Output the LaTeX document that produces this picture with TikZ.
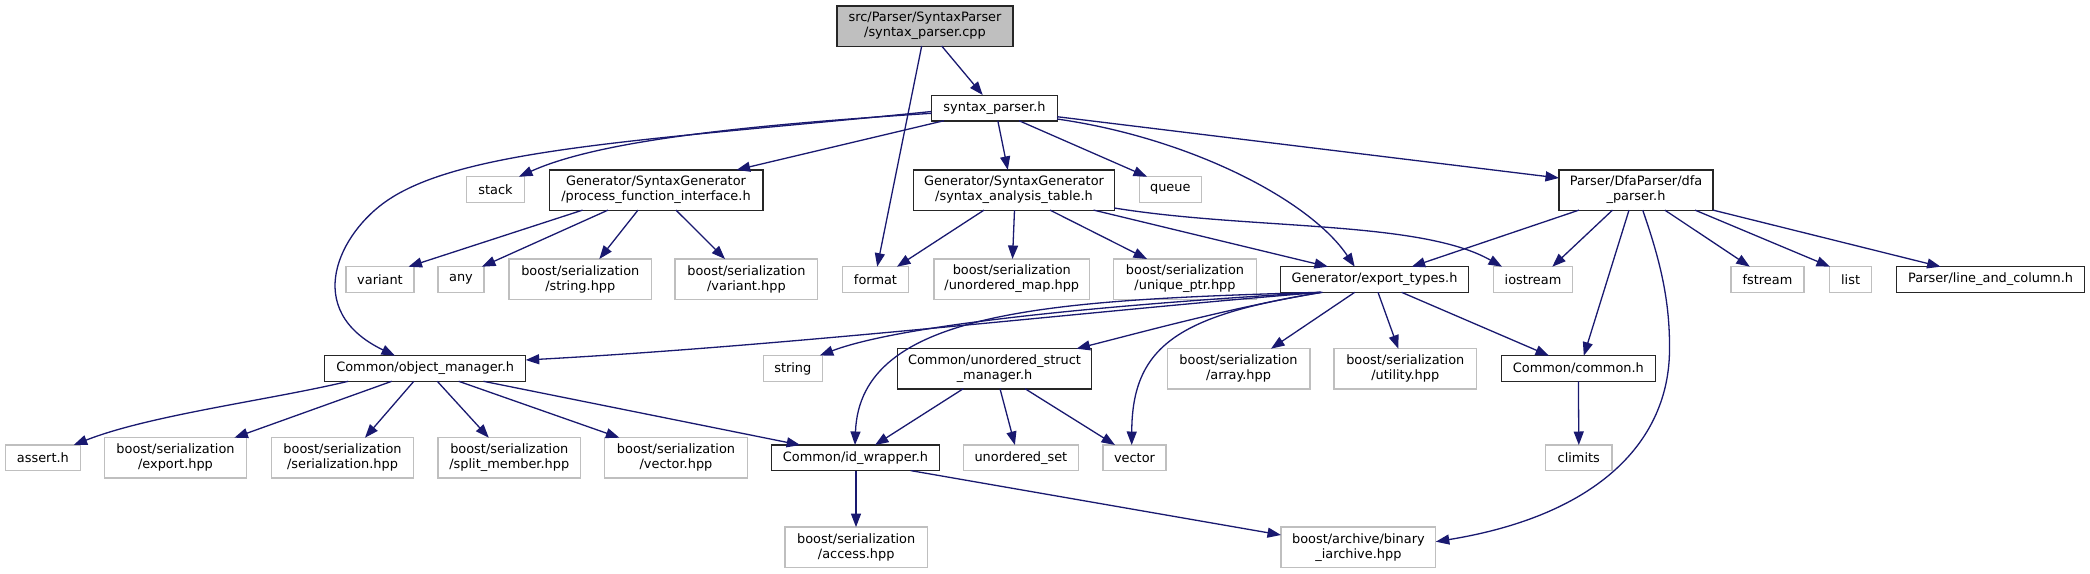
\documentclass[tikz,border=0pt]{standalone}
\usepackage{fontspec}
\setmainfont{DejaVu Sans}
\usetikzlibrary{arrows.meta,calc}
\definecolor{edgec}{HTML}{191970}
\definecolor{greyseventyfive}{HTML}{BFBFBF}
\newcommand{\nodefont}{\fontsize{12.9pt}{15pt}\selectfont}
\tikzset{
  basen/.style={rectangle, inner sep=0pt, align=center, font=\nodefont, text=black},
  intn/.style={basen, draw=black!85, line width=1.3pt, fill=white},
  extn/.style={basen, draw=greyseventyfive, line width=1.3pt, fill=white},
  rootn/.style={intn, fill=greyseventyfive},
  one/.style={minimum height=25.7pt},
  two/.style={minimum height=40.3pt},
  edg/.style={draw=edgec, line width=1.3pt, -{Triangle[length=13.5pt,width=10pt]}},
}
\begin{document}
\begin{tikzpicture}[x=1pt,y=-1pt]
\useasboundingbox[fill=white] (0,0) rectangle (2090,573);
% row 0
\node[rootn, two, minimum width=176pt] (root) at (925,26) {src/Parser/SyntaxParser\\/syntax\_parser.cpp};
% row 1
\node[intn, one, minimum width=125.5pt] (sp) at (994.5,108) {syntax\_parser.h};
% row 2
\node[extn, one, minimum width=57.6pt] (stack) at (495.5,189.5) {stack};
\node[intn, two, minimum width=213.7pt] (pfi) at (656,190) {Generator/SyntaxGenerator\\/process\_function\_interface.h};
\node[intn, two, minimum width=201pt] (sat) at (1014,190) {Generator/SyntaxGenerator\\/syntax\_analysis\_table.h};
\node[extn, one, minimum width=62.3pt] (queue) at (1170.3,189.5) {queue};
\node[intn, two, minimum width=154pt] (dfa) at (1636,190) {Parser/DfaParser/dfa\\\_parser.h};
% row 3
\node[extn, one, minimum width=68pt] (variant) at (380,279.5) {variant};
\node[extn, one, minimum width=46pt] (any) at (461,279.5) {any};
\node[extn, two, minimum width=142.6pt] (bstring) at (580.3,279) {boost/serialization\\/string.hpp};
\node[extn, two, minimum width=142.6pt] (bvariant) at (746.4,279) {boost/serialization\\/variant.hpp};
\node[extn, one, minimum width=66.3pt] (format) at (875.5,279.5) {format};
\node[extn, two, minimum width=155.6pt] (bumap) at (1011.8,279) {boost/serialization\\/unordered\_map.hpp};
\node[extn, two, minimum width=142.6pt] (buptr) at (1185,279) {boost/serialization\\/unique\_ptr.hpp};
\node[intn, one, minimum width=188.2pt] (export) at (1374.5,279.5) {Generator/export\_types.h};
\node[extn, one, minimum width=79pt] (iostream) at (1533,279.5) {iostream};
\node[extn, one, minimum width=73pt] (fstream) at (1767.5,279.5) {fstream};
\node[extn, one, minimum width=42.2pt] (list) at (1850.6,279.5) {list};
\node[intn, one, minimum width=188.2pt] (lac) at (1990.6,279.5) {Parser/line\_and\_column.h};
% row 4
\node[intn, one, minimum width=201pt] (om) at (425.2,368.5) {Common/object\_manager.h};
\node[extn, one, minimum width=59pt] (string) at (792.8,368.5) {string};
\node[intn, two, minimum width=194.3pt] (usm) at (994.5,368.7) {Common/unordered\_struct\\\_manager.h};
\node[extn, two, minimum width=142.7pt] (barray) at (1238.5,368.7) {boost/serialization\\/array.hpp};
\node[extn, two, minimum width=142.6pt] (butil) at (1405.3,368.7) {boost/serialization\\/utility.hpp};
\node[intn, one, minimum width=154pt] (common) at (1578.4,368.5) {Common/common.h};
% row 5
\node[extn, one, minimum width=75pt] (assert) at (42.9,457.8) {assert.h};
\node[extn, two, minimum width=142pt] (bexport) at (175.5,457.8) {boost/serialization\\/export.hpp};
\node[extn, two, minimum width=142.6pt] (bser) at (342.5,457.8) {boost/serialization\\/serialization.hpp};
\node[extn, two, minimum width=142.6pt] (bsplit) at (509.3,457.8) {boost/serialization\\/split\_member.hpp};
\node[extn, two, minimum width=142.6pt] (bvec) at (676,457.8) {boost/serialization\\/vector.hpp};
\node[intn, one, minimum width=168pt] (idw) at (855.5,457.8) {Common/id\_wrapper.h};
\node[extn, one, minimum width=114.6pt] (uset) at (1020.9,457.8) {unordered\_set};
\node[extn, one, minimum width=63pt] (vector) at (1134.5,457.8) {vector};
\node[extn, one, minimum width=66.3pt] (climits) at (1578.8,457.8) {climits};
% row 6
\node[extn, two, minimum width=142.7pt] (baccess) at (856.2,547.2) {boost/serialization\\/access.hpp};
\node[extn, two, minimum width=154.8pt] (bbin) at (1358.4,547.2) {boost/archive/binary\\\_iarchive.hpp};

% edges from root
\draw[edg] ($(root)+(16.7,20)$) -- ($(sp)+(-11.8,-13)$);
\draw[edg] ($(root)+(-3.3,20)$) -- ($(format)+(1.7,-12.8)$);
% edges from syntax_parser.h
\draw[edg] ($(sp)+(-63,3.5)$) .. controls (650,140) and (465,148) .. (388,200) .. controls (340,232) and (300,310) .. ($(om)+(-30.2,-12.8)$);
\draw[edg] ($(sp)+(-63,5.3)$) .. controls (750,125) and (600,140) .. ($(stack)+(23.5,-12.8)$);
\draw[edg] ($(sp)+(-50.5,12.7)$) -- ($(pfi)+(80.6,-20.1)$);
\draw[edg] ($(sp)+(3.3,12.7)$) -- ($(sat)+(-6.2,-20.1)$);
\draw[edg] ($(sp)+(24.5,12.7)$) -- ($(queue)+(-23.3,-12.8)$);
\draw[edg] ($(sp)+(62.5,11)$) .. controls (1190,138) and (1310,200) .. ($(export)+(-19.8,-12.8)$);
\draw[edg] ($(sp)+(62.5,8.7)$) -- ($(dfa)+(-77,-12)$);
% edges from process_function_interface.h
\draw[edg] ($(pfi)+(-73.4,20.1)$) -- ($(variant)+(28.5,-12.8)$);
\draw[edg] ($(pfi)+(-48,20.1)$) -- ($(any)+(21,-12.8)$);
\draw[edg] ($(pfi)+(-18,20.1)$) -- ($(bstring)+(19,-20)$);
\draw[edg] ($(pfi)+(20,20.1)$) -- ($(bvariant)+(-21.4,-20)$);
% edges from syntax_analysis_table.h
\draw[edg] ($(sat)+(-30,20.1)$) -- ($(format)+(21.5,-12.8)$);
\draw[edg] ($(sat)+(0.5,20.1)$) -- ($(bumap)+(0.7,-20)$);
\draw[edg] ($(sat)+(36,20.1)$) -- ($(buptr)+(-38,-20)$);
\draw[edg] ($(sat)+(79.6,20.1)$) -- ($(export)+(-46.5,-12.8)$);
\draw[edg] ($(sat)+(100.3,18)$) .. controls (1250,230) and (1420,220) .. ($(iostream)+(-31,-12.8)$);
% edges from dfa_parser.h
\draw[edg] ($(dfa)+(-57,20.1)$) -- ($(export)+(37.2,-12.8)$);
\draw[edg] ($(dfa)+(-23.5,20.1)$) -- ($(iostream)+(19.3,-12.8)$);
\draw[edg] ($(dfa)+(-7,20.1)$) -- ($(common)+(5.4,-12.8)$);
\draw[edg] ($(dfa)+(6.7,20.1)$) .. controls (1660,260) and (1670,300) .. (1669.5,350) .. controls (1669,440) and (1600,515) .. ($(bbin)+(77.4,-5.5)$);
\draw[edg] ($(dfa)+(28.8,20.1)$) -- ($(fstream)+(-17.7,-12.8)$);
\draw[edg] ($(dfa)+(59,20.1)$) -- ($(list)+(-20.6,-12.8)$);
\draw[edg] ($(dfa)+(77,20.1)$) -- ($(lac)+(-50,-12.8)$);
% edges from export_types.h
\draw[edg] ($(export)+(-53.5,12.8)$) .. controls (1100,310) and (800,345) .. ($(om)+(100.5,-8.5)$);
\draw[edg] ($(export)+(-54,12.8)$) .. controls (1100,305) and (900,325) .. ($(string)+(27,-13)$);
\draw[edg] ($(export)+(-54.5,12.8)$) .. controls (1050,300) and (860,310) .. ($(idw)+(-0.5,-12.8)$);
\draw[edg] ($(export)+(-53,12.8)$) .. controls (1230,308) and (1150,330) .. ($(usm)+(82,-20)$);
\draw[edg] ($(export)+(-52,12.8)$) .. controls (1180,315) and (1132,345) .. ($(vector)+(-2.8,-12.8)$);
\draw[edg] ($(export)+(-19.8,12.8)$) -- ($(barray)+(32.5,-20)$);
\draw[edg] ($(export)+(3.5,12.8)$) -- ($(butil)+(-7,-20)$);
\draw[edg] ($(export)+(27.1,12.8)$) -- ($(common)+(-29.4,-12.8)$);
% edges from object_manager.h
\draw[edg] ($(om)+(-77,12.8)$) .. controls (270,400) and (150,415) .. ($(assert)+(30.8,-12.8)$);
\draw[edg] ($(om)+(-33.5,12.8)$) -- ($(bexport)+(58.9,-20.1)$);
\draw[edg] ($(om)+(-11.4,12.8)$) -- ($(bser)+(22.5,-20.1)$);
\draw[edg] ($(om)+(12.1,12.8)$) -- ($(bsplit)+(-20.5,-20.1)$);
\draw[edg] ($(om)+(33.5,12.8)$) -- ($(bvec)+(-56.6,-20.1)$);
\draw[edg] ($(om)+(58.3,12.8)$) -- ($(idw)+(-55.3,-12.8)$);
% edges from unordered_struct_manager.h
\draw[edg] ($(usm)+(-31.2,20)$) -- ($(idw)+(19.5,-12.8)$);
\draw[edg] ($(usm)+(5.5,20)$) -- ($(uset)+(-6,-12.8)$);
\draw[edg] ($(usm)+(30.5,20)$) -- ($(vector)+(-19.5,-12.8)$);
% edges from id_wrapper.h and common.h
\draw[edg] ($(idw)+(0.5,12.8)$) -- ($(baccess)+(-0.2,-20.1)$);
\draw[edg] ($(idw)+(55.2,12.8)$) -- ($(bbin)+(-77.4,-12.2)$);
\draw[edg] ($(common)+(0,12.8)$) -- ($(climits)+(0,-12.8)$);
\end{tikzpicture}
\end{document}
